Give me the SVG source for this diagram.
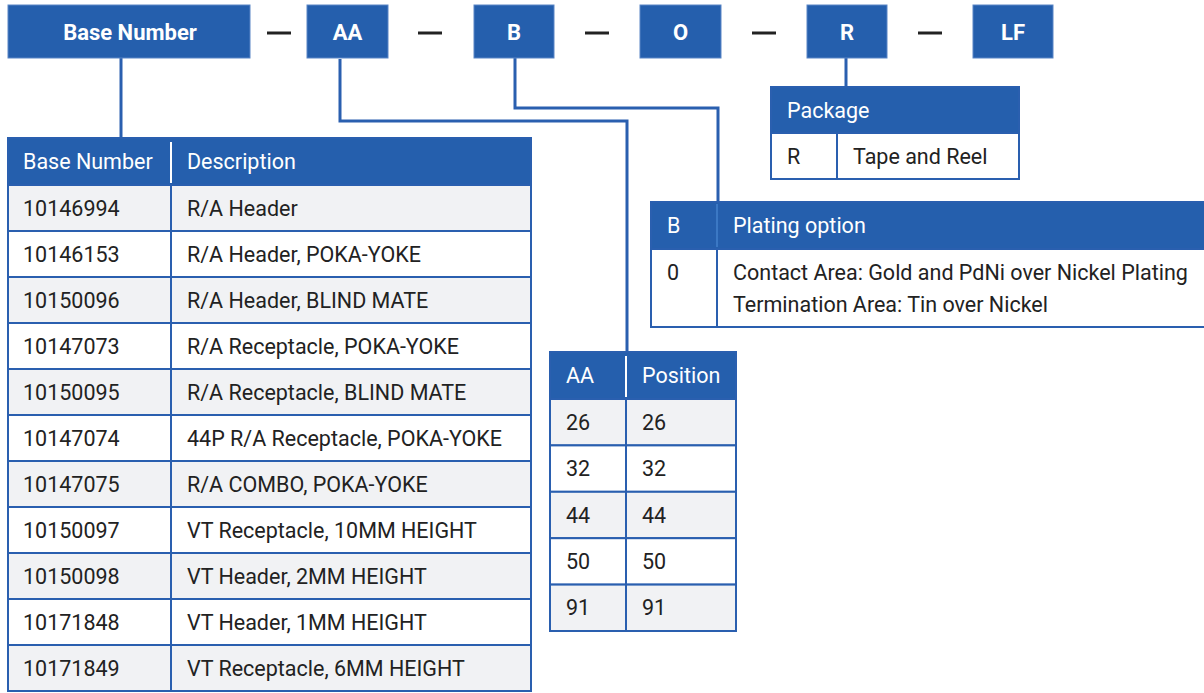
<svg xmlns="http://www.w3.org/2000/svg" width="1204" height="693" viewBox="0 0 1204 693">
<style>
.bx{fill:#255fad;stroke:#5a86c6;stroke-width:1}
.bt{font-family:Roboto,"Liberation Sans",sans-serif;font-weight:bold;font-size:22px;fill:#fff;text-anchor:middle}
.dash{stroke:#222;stroke-width:3}
.hd{fill:#255fad;stroke:#2a5faf;stroke-width:2}
.ht{font-family:Roboto,"Liberation Sans",sans-serif;font-size:21.5px;fill:#fff}
.g{fill:#f1f2f4;stroke:#2a5faf;stroke-width:2}
.w{fill:#fff;stroke:#2a5faf;stroke-width:2}
.t{font-family:Roboto,"Liberation Sans",sans-serif;font-size:21.5px;fill:#222}
.cd{stroke:#2a5faf;stroke-width:2}
.hdw{stroke:#fff;stroke-width:2}
.con{fill:none;stroke:#2a5faf;stroke-width:3}
</style>

<g id="connectors">
<path class="con" d="M121 58V138"/>
<path class="con" d="M340 59V121H627V352"/>
<path class="con" d="M515 58V108H718V202"/>
<path class="con" d="M846 58V87"/>
</g>

<g id="code">
<g id="box-base"><rect class="bx" x="8" y="5" width="242" height="53"/><text class="bt" x="130" y="40">Base Number</text></g>
<line class="dash" x1="267" y1="33" x2="291" y2="33"/>
<g id="box-aa"><rect class="bx" x="307" y="5" width="81" height="53"/><text class="bt" x="347.5" y="40">AA</text></g>
<line class="dash" x1="418" y1="33" x2="442" y2="33"/>
<g id="box-b"><rect class="bx" x="474" y="5" width="80" height="53"/><text class="bt" x="514" y="40">B</text></g>
<line class="dash" x1="585" y1="33" x2="609" y2="33"/>
<g id="box-o"><rect class="bx" x="640" y="5" width="81" height="53"/><text class="bt" x="680.5" y="40">O</text></g>
<line class="dash" x1="752" y1="33" x2="776" y2="33"/>
<g id="box-r"><rect class="bx" x="807" y="5" width="80" height="53"/><text class="bt" x="847" y="40">R</text></g>
<line class="dash" x1="918" y1="33" x2="942" y2="33"/>
<g id="box-lf"><rect class="bx" x="973" y="5" width="80" height="53"/><text class="bt" x="1013" y="40">LF</text></g>
</g>

<g id="table-base">
<rect class="hd" x="8" y="138" width="523" height="47"/>
<line class="hdw" x1="171" y1="142" x2="171" y2="183"/>
<text class="ht" x="23" y="169">Base Number</text>
<text class="ht" x="187" y="169">Description</text>
<rect class="g" x="8" y="185" width="523" height="46"/>
<rect class="w" x="8" y="231" width="523" height="46"/>
<rect class="g" x="8" y="277" width="523" height="46"/>
<rect class="w" x="8" y="323" width="523" height="46"/>
<rect class="g" x="8" y="369" width="523" height="46"/>
<rect class="w" x="8" y="415" width="523" height="46"/>
<rect class="g" x="8" y="461" width="523" height="46"/>
<rect class="w" x="8" y="507" width="523" height="46"/>
<rect class="g" x="8" y="553" width="523" height="46"/>
<rect class="w" x="8" y="599" width="523" height="46"/>
<rect class="g" x="8" y="645" width="523" height="46"/>
<line class="cd" x1="171" y1="185" x2="171" y2="691"/>
<text class="t" x="23" y="216">10146994</text><text class="t" x="187" y="216">R/A Header</text>
<text class="t" x="23" y="262">10146153</text><text class="t" x="187" y="262">R/A Header, POKA-YOKE</text>
<text class="t" x="23" y="308">10150096</text><text class="t" x="187" y="308">R/A Header, BLIND MATE</text>
<text class="t" x="23" y="354">10147073</text><text class="t" x="187" y="354">R/A Receptacle, POKA-YOKE</text>
<text class="t" x="23" y="400">10150095</text><text class="t" x="187" y="400">R/A Receptacle, BLIND MATE</text>
<text class="t" x="23" y="446">10147074</text><text class="t" x="187" y="446">44P R/A Receptacle, POKA-YOKE</text>
<text class="t" x="23" y="492">10147075</text><text class="t" x="187" y="492">R/A COMBO, POKA-YOKE</text>
<text class="t" x="23" y="538">10150097</text><text class="t" x="187" y="538">VT Receptacle, 10MM HEIGHT</text>
<text class="t" x="23" y="584">10150098</text><text class="t" x="187" y="584">VT Header, 2MM HEIGHT</text>
<text class="t" x="23" y="630">10171848</text><text class="t" x="187" y="630">VT Header, 1MM HEIGHT</text>
<text class="t" x="23" y="676">10171849</text><text class="t" x="187" y="676">VT Receptacle, 6MM HEIGHT</text>
</g>

<g id="table-aa">
<rect class="hd" x="550" y="352" width="186" height="47"/>
<line class="hdw" x1="626" y1="356" x2="626" y2="397"/>
<text class="ht" x="566" y="383">AA</text>
<text class="ht" x="642" y="383">Position</text>
<rect class="g" x="550" y="399" width="186" height="46.4"/>
<rect class="w" x="550" y="445.4" width="186" height="46.4"/>
<rect class="g" x="550" y="491.8" width="186" height="46.4"/>
<rect class="w" x="550" y="538.2" width="186" height="46.4"/>
<rect class="g" x="550" y="584.6" width="186" height="46.4"/>
<line class="cd" x1="626" y1="399" x2="626" y2="631"/>
<text class="t" x="566" y="430">26</text><text class="t" x="642" y="430">26</text>
<text class="t" x="566" y="476">32</text><text class="t" x="642" y="476">32</text>
<text class="t" x="566" y="523">44</text><text class="t" x="642" y="523">44</text>
<text class="t" x="566" y="569">50</text><text class="t" x="642" y="569">50</text>
<text class="t" x="566" y="615">91</text><text class="t" x="642" y="615">91</text>
</g>

<g id="table-package">
<rect class="hd" x="771" y="87" width="248" height="46"/>
<text class="ht" x="787" y="118">Package</text>
<rect class="w" x="771" y="133" width="248" height="46"/>
<line class="cd" x1="837" y1="133" x2="837" y2="179"/>
<text class="t" x="787" y="164">R</text>
<text class="t" x="853" y="164">Tape and Reel</text>
</g>

<g id="table-plating">
<rect class="hd" x="651" y="202" width="556" height="47"/>
<line stroke="#3b78c4" stroke-width="2" x1="717" y1="204" x2="717" y2="247"/>
<text class="ht" x="667" y="233">B</text>
<text class="ht" x="733" y="233">Plating option</text>
<rect class="w" x="651" y="249" width="556" height="78"/>
<line class="cd" x1="717" y1="249" x2="717" y2="327"/>
<text class="t" x="667" y="280">0</text>
<text class="t" x="733" y="280">Contact Area: Gold and PdNi over Nickel Plating</text>
<text class="t" x="733" y="312">Termination Area: Tin over Nickel</text>
</g>
</svg>
